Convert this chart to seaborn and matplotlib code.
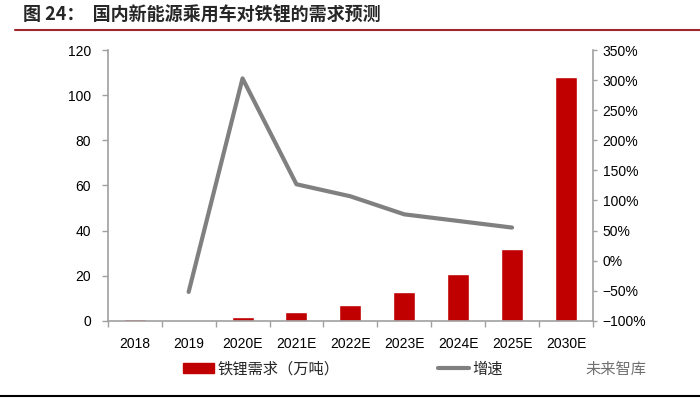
import numpy as np
import pandas as pd
import seaborn as sns
import matplotlib.pyplot as plt
from matplotlib.patches import Patch
from matplotlib.lines import Line2D

years = ['2018', '2019', '2020E', '2021E', '2022E', '2023E', '2024E', '2025E', '2030E']
demand = [0.7, 0.3, 1.5, 3.7, 7.1, 12.6, 20.6, 31.7, 107.9]
growth_years = ['2019', '2020E', '2021E', '2022E', '2023E', '2024E', '2025E']
growth = [-52, 303, 127, 107, 77, 66, 55]

sns.set_theme(style='white')
plt.rcParams['font.family'] = ['Liberation Sans', 'Noto Sans CJK SC', 'DejaVu Sans']
plt.rcParams['axes.unicode_minus'] = True

bar_color = '#C00000'
line_color = '#808080'
axis_color = '#A0A0A0'

fig = plt.figure(figsize=(7, 4.01), dpi=100)
ax = fig.add_axes([0.154, 0.2, 0.693, 0.675])

df = pd.DataFrame({'year': years, 'demand': demand})
sns.barplot(data=df, x='year', y='demand', color=bar_color, saturation=1, width=0.41, ax=ax)
ax.set_ylim(0, 120)
ax.set_yticks(range(0, 121, 20))
ax.set_xlim(-0.5, len(years) - 0.5)
ax.set_xlabel('')
ax.set_ylabel('')

ax2 = ax.twinx()
gdf = pd.DataFrame({'pos': [years.index(y) for y in growth_years], 'growth': growth})
sns.lineplot(data=gdf, x='pos', y='growth', color=line_color, linewidth=3, ax=ax2)
ax2.set_ylim(-100, 350)
ax2.set_yticks(range(-100, 351, 50))
ax2.set_yticklabels([f'{v}%'.replace('-', '\u2212') for v in range(-100, 351, 50)])
ax2.set_xlim(-0.5, len(years) - 0.5)
ax2.set_ylabel('')

for a in (ax, ax2):
    for s in ['top', 'left', 'right', 'bottom']:
        a.spines[s].set_visible(False)
ax.spines['left'].set_visible(True)
ax.spines['bottom'].set_visible(True)
ax2.spines['right'].set_visible(True)
for s in ['left', 'bottom']:
    ax.spines[s].set_color(axis_color)
    ax.spines[s].set_linewidth(1.2)
ax2.spines['right'].set_color(axis_color)
ax2.spines['right'].set_linewidth(1.2)

ax.tick_params(axis='y', left=True, length=4, width=1, color=axis_color, labelsize=10, pad=8, labelcolor='black')
ax2.tick_params(axis='y', right=True, length=3, width=1, color=axis_color, labelsize=10, pad=4, labelcolor='black')
ax.set_xticks(range(len(years)))
ax.set_xticklabels(years)
ax.set_xticks(np.arange(-0.5, len(years), 1), minor=True)
ax.tick_params(axis='x', which='major', bottom=False, labelsize=10, pad=6, labelcolor='black')
ax.tick_params(axis='x', which='minor', bottom=True, length=4, width=1, color=axis_color)

handles = [Patch(facecolor=bar_color, edgecolor=bar_color),
           Line2D([0], [0], color=line_color, linewidth=3)]
fig.legend(handles, ['铁锂需求（万吨）', '增速'], loc='center', bbox_to_anchor=(0.49, 0.08),
           ncol=2, frameon=False, prop={'family': ['Noto Sans CJK SC'], 'size': 11},
           handlelength=2.0, handletextpad=0.2, columnspacing=6.5)

fig.text(0.836, 0.08, '未来智库', ha='left', va='center', fontsize=11, color='#707070',
         family=['Noto Sans CJK SC'])

fig.text(0.033, 0.963, '图 24：  国内新能源乘用车对铁锂的需求预测', ha='left', va='center',
         fontsize=13, fontweight='bold', family=['Noto Sans CJK SC', 'DejaVu Sans'])
fig.add_artist(Line2D([0.021, 1.0], [0.925, 0.925], color='#A0282D', linewidth=1.5,
                      transform=fig.transFigure))
fig.add_artist(Line2D([0.0, 1.0], [0.013, 0.013], color='black', linewidth=1.5,
                      transform=fig.transFigure))

fig.savefig('out.png', dpi=100)
